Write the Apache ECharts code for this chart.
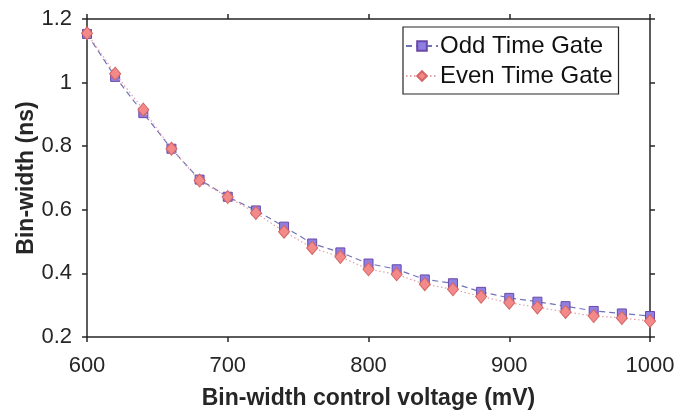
<!DOCTYPE html>
<html>
<head>
<meta charset="utf-8">
<script src="https://cdn.jsdelivr.net/npm/echarts@6/dist/echarts.min.js"></script>
<style>
html,body{margin:0;padding:0;background:#fff;}
#chart{width:678px;height:413px;}
</style>
</head>
<body>
<div id="chart"></div>
<script>
const voltages = [600,620,640,660,680,700,720,740,760,780,800,820,840,860,880,900,920,940,960,980,1000];
const oddGate  = [1.153,1.018,0.904,0.792,0.695,0.641,0.598,0.547,0.494,0.466,0.431,0.413,0.381,0.369,0.342,0.323,0.311,0.297,0.282,0.274,0.266];
const evenGate = [1.155,1.028,0.915,0.792,0.692,0.640,0.590,0.531,0.480,0.452,0.413,0.397,0.366,0.350,0.327,0.308,0.293,0.279,0.266,0.260,0.250];
const xTicks = [600,700,800,900,1000];
const yTicks = [0.2,0.4,0.6,0.8,1,1.2];

const textColor = '#262626';
const font = 'Liberation Sans, Arial, Helvetica, sans-serif';
const chart = echarts.init(document.getElementById('chart'), null, {renderer:'canvas'});

function pairs(xs, ys){ return xs.map((x,i)=>[x, ys[i]]); }

const axisLineStyle = {color:textColor, width:1.5};
chart.setOption({
  animation:false,
  backgroundColor:'#fff',
  grid:{left:87, right:28, top:19, bottom:76, outerBoundsMode:'none'},
  legend:{
    orient:'vertical',
    left:403, top:27,
    itemWidth:32, itemHeight:12, itemGap:6,
    padding:[7,6,6,2],
    borderColor:textColor, borderWidth:1.2,
    backgroundColor:'#fff',
    textStyle:{fontFamily:font, fontSize:24, color:'#111', padding:[0,0,0,-3]},
    data:['Odd Time Gate','Even Time Gate']
  },
  xAxis:[{
    type:'value', min:600, max:1000, interval:100,
    name:'Bin-width control voltage (mV)', nameLocation:'middle', nameGap:50,
    nameMoveOverlap:false,
    nameTextStyle:{fontFamily:font, fontSize:23, fontWeight:'bold', color:textColor},
    axisLine:{lineStyle:axisLineStyle},
    axisTick:{show:true, inside:false, length:5, lineStyle:axisLineStyle},
    axisLabel:{fontFamily:font, fontSize:22, color:textColor, margin:18,
      formatter: v => (xTicks.indexOf(v) >= 0 ? String(v) : '')},
    splitLine:{show:false}
  },{
    type:'value', position:'top', min:600, max:1000, interval:100,
    axisLine:{show:true, lineStyle:axisLineStyle},
    axisTick:{show:true, inside:false, length:5, lineStyle:axisLineStyle},
    axisLabel:{show:false}, splitLine:{show:false}
  }],
  yAxis:[{
    type:'value', min:0.2, max:1.2, interval:0.2,
    name:'Bin-width (ns)', nameLocation:'middle', nameGap:49,
    nameMoveOverlap:false,
    nameTextStyle:{fontFamily:font, fontSize:23, fontWeight:'bold', color:textColor},
    axisLine:{show:true, lineStyle:axisLineStyle},
    axisTick:{show:true, inside:false, length:5, lineStyle:axisLineStyle},
    axisLabel:{fontFamily:font, fontSize:22, color:textColor, margin:15,
      formatter: v => String(parseFloat(v.toFixed(2)))},
    splitLine:{show:false}
  },{
    type:'value', position:'right', min:0.2, max:1.2, interval:0.2,
    axisLine:{show:true, lineStyle:axisLineStyle},
    axisTick:{show:true, inside:false, length:5, lineStyle:axisLineStyle},
    axisLabel:{show:false}, splitLine:{show:false}
  }],
  series:[{
    name:'Odd Time Gate', type:'line',
    data:pairs(voltages, oddGate),
    symbol:'rect', symbolSize:9,
    itemStyle:{color:'#8f7fe3', borderColor:'#6a4aa8', borderWidth:1},
    lineStyle:{color:'#7272b8', width:1.2, type:[6,4]},
    z:2
  },{
    name:'Even Time Gate', type:'line',
    data:pairs(voltages, evenGate),
    symbol:'diamond', symbolSize:[11,13],
    itemStyle:{color:'#f28a8a', borderColor:'#d56565', borderWidth:1},
    lineStyle:{color:'#e2a0a8', width:1.2, type:[1.5,2.5]},
    z:3
  }]
});
</script>
</body>
</html>
